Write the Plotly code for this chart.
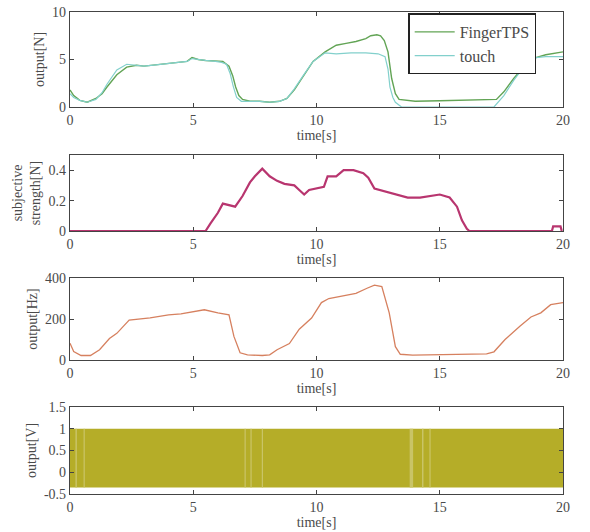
import plotly.graph_objects as go

# ---------------- data ----------------
t_finger = [0, 0.15, 0.4, 0.7, 1.05, 1.3, 1.5, 1.9, 2.3, 2.7, 3.0, 3.4, 3.8, 4.1, 4.5, 4.75, 4.95, 5.2, 5.5, 5.9, 6.2, 6.45, 6.6, 6.72, 6.85, 7.0, 7.3, 7.7, 8.1, 8.5, 8.8, 9.1, 9.46, 9.86, 10.35, 10.8, 11.2, 11.6, 12.0, 12.2, 12.45, 12.6, 12.75, 12.9, 13.05, 13.2, 13.35, 13.6, 14.0, 15.0, 16.0, 16.8, 17.3, 17.6, 18.0, 18.4, 18.9, 19.3, 19.7, 20.0]
v_finger = [1.8, 1.2, 0.7, 0.5, 0.9, 1.4, 2.1, 3.4, 4.2, 4.4, 4.3, 4.4, 4.5, 4.6, 4.7, 4.8, 5.2, 5.0, 4.9, 4.8, 4.8, 4.3, 3.3, 2.1, 1.2, 0.8, 0.6, 0.6, 0.5, 0.6, 0.9, 1.8, 3.2, 4.8, 5.8, 6.5, 6.7, 6.9, 7.2, 7.5, 7.6, 7.5, 7.0, 5.8, 3.0, 1.4, 0.8, 0.7, 0.6, 0.65, 0.7, 0.7, 0.8, 1.6, 3.0, 4.2, 5.2, 5.5, 5.7, 5.8]

t_touch = [0, 0.15, 0.4, 0.7, 1.05, 1.3, 1.5, 1.9, 2.3, 2.7, 3.0, 3.4, 3.8, 4.1, 4.5, 4.75, 4.95, 5.2, 5.5, 5.9, 6.15, 6.35, 6.5, 6.62, 6.76, 6.95, 7.3, 7.7, 8.1, 8.5, 8.8, 9.1, 9.46, 9.86, 10.35, 10.8, 11.4, 12.0, 12.5, 12.78, 12.9, 12.98, 13.1, 13.2, 13.45, 14.0, 15.0, 16.0, 17.2, 17.6, 18.0, 18.4, 18.9, 19.3, 19.7, 20.0]
v_touch = [1.4, 1.0, 0.7, 0.5, 0.8, 1.5, 2.4, 3.9, 4.5, 4.4, 4.3, 4.4, 4.5, 4.6, 4.7, 4.8, 5.1, 5.0, 4.9, 4.8, 4.7, 4.5, 3.5, 2.2, 1.0, 0.6, 0.6, 0.6, 0.5, 0.6, 0.9, 1.9, 3.3, 4.8, 5.7, 5.6, 5.7, 5.7, 5.6, 5.3, 4.0, 2.1, 1.0, 0.5, 0.0, 0.0, 0.0, 0.0, 0.0, 1.2, 2.8, 4.2, 5.2, 5.3, 5.3, 5.3]

t_strength = [0, 5.5, 5.7, 6.0, 6.2, 6.4, 6.7, 7.0, 7.3, 7.5, 7.8, 8.1, 8.4, 8.7, 9.1, 9.3, 9.5, 9.7, 10.0, 10.3, 10.45, 10.8, 11.1, 11.5, 11.9, 12.1, 12.35, 12.8, 13.3, 13.7, 14.2, 14.6, 15.0, 15.4, 15.7, 15.9, 16.1, 16.2, 19.55, 19.6, 19.9, 19.95]
v_strength = [0, 0, 0.05, 0.12, 0.18, 0.17, 0.16, 0.23, 0.32, 0.36, 0.41, 0.36, 0.33, 0.31, 0.30, 0.27, 0.24, 0.27, 0.28, 0.29, 0.36, 0.36, 0.40, 0.40, 0.38, 0.35, 0.28, 0.26, 0.24, 0.22, 0.22, 0.23, 0.24, 0.22, 0.16, 0.07, 0.015, 0, 0, 0.03, 0.03, 0]

t_hz = [0, 0.15, 0.45, 0.83, 1.2, 1.6, 1.9, 2.2, 2.4, 3.25, 4.0, 4.5, 5.0, 5.45, 6.0, 6.45, 6.65, 6.9, 7.2, 7.8, 8.1, 8.4, 8.9, 9.3, 9.8, 10.2, 10.5, 11.0, 11.6, 12.05, 12.35, 12.65, 12.95, 13.2, 13.4, 13.9, 15.4, 16.9, 17.2, 17.65, 18.25, 18.7, 19.1, 19.5, 20.0]
v_hz = [82, 41, 22, 22, 50, 105, 130, 170, 195, 205, 220, 225, 237, 245, 230, 220, 115, 35, 25, 22, 25, 50, 80, 150, 205, 280, 300, 310, 325, 350, 365, 358, 230, 65, 28, 24, 26, 30, 40, 100, 165, 210, 230, 270, 280]

# panel 4: voltage pulse train envelope and lighter (sparser) intervals
pulse_t = [0, 20]
pulse_high = 1.0
pulse_low = -0.35
light_start = [0.22, 0.55, 7.08, 7.32, 7.78, 13.78, 14.28, 14.58]
light_end = [0.28, 0.6, 7.13, 7.37, 7.83, 13.92, 14.34, 14.63]

x_ticks = [0, 5, 10, 15, 20]

# ---------------- figure ----------------
SERIF = "Liberation Serif, Times New Roman, serif"
TXT = "#4a4a4a"
AX = "#444444"

fig = go.Figure()

fig.add_trace(go.Scatter(x=t_finger, y=v_finger, mode="lines", name="FingerTPS",
                         line=dict(color="#62a455", width=1.4), xaxis="x", yaxis="y"))
fig.add_trace(go.Scatter(x=t_touch, y=v_touch, mode="lines", name="touch",
                         line=dict(color="#82d0cc", width=1.2), xaxis="x", yaxis="y"))

fig.add_trace(go.Scatter(x=t_strength, y=v_strength, mode="lines", showlegend=False,
                         line=dict(color="#b8356f", width=2.2), xaxis="x2", yaxis="y2"))

fig.add_trace(go.Scatter(x=t_hz, y=v_hz, mode="lines", showlegend=False,
                         line=dict(color="#d6805f", width=1.3), xaxis="x3", yaxis="y3"))

# panel 4 band
fig.add_trace(go.Scatter(x=pulse_t, y=[pulse_low] * len(pulse_t), mode="lines", showlegend=False,
                         line=dict(color="#b5ad28", width=0), xaxis="x4", yaxis="y4"))
fig.add_trace(go.Scatter(x=pulse_t, y=[pulse_high] * len(pulse_t), mode="lines", showlegend=False,
                         fill="tonexty", fillcolor="#b5ad28",
                         line=dict(color="#b5ad28", width=0), xaxis="x4", yaxis="y4"))
sx, sy = [], []
for a, b in zip(light_start, light_end):
    sx += [a, b, b, a, a, None]
    sy += [pulse_low, pulse_low, pulse_high, pulse_high, pulse_low, None]
fig.add_trace(go.Scatter(x=sx, y=sy, mode="lines", showlegend=False, fill="toself",
                         fillcolor="#c9c466", line=dict(width=0), xaxis="x4", yaxis="y4"))

H = 482.0
def dom(top_px, bot_px):
    return [(494 - bot_px) / H, (494 - top_px) / H]

common_x = dict(range=[0, 20], tickvals=x_ticks, ticktext=[str(v) for v in x_ticks],
                showline=True, mirror="ticks", linecolor=AX, linewidth=1.2,
                ticks="inside", ticklen=4, tickcolor=AX, showgrid=False, zeroline=False,
                automargin=False,
                tickfont=dict(family=SERIF, size=14, color=TXT),
                title=dict(text="time[s]", font=dict(family=SERIF, size=14, color=TXT), standoff=0))
common_y = dict(showline=True, mirror="ticks", linecolor=AX, linewidth=1.2,
                ticks="inside", ticklen=4, tickcolor=AX, showgrid=False, zeroline=False,
                automargin=False,
                tickfont=dict(family=SERIF, size=14, color=TXT))

def ytitle(t):
    return dict(text=t, font=dict(family=SERIF, size=14, color=TXT), standoff=4)

fig.update_layout(
    width=590, height=532,
    margin=dict(l=70, r=27, t=12, b=38),
    paper_bgcolor="white", plot_bgcolor="white",
    xaxis=dict(common_x, anchor="y"),
    xaxis2=dict(common_x, anchor="y2"),
    xaxis3=dict(common_x, anchor="y3"),
    xaxis4=dict(common_x, anchor="y4"),
    yaxis=dict(common_y, domain=dom(12, 107), range=[0, 10], tickvals=[0, 5, 10],
               anchor="x", title=ytitle("output[N]")),
    yaxis2=dict(common_y, domain=dom(155, 231), range=[0, 0.5], tickvals=[0, 0.2, 0.4],
                ticktext=["0", "0.2", "0.4"], anchor="x2",
                title=ytitle("subjective<br>strength[N]")),
    yaxis3=dict(common_y, domain=dom(278, 360), range=[0, 400], tickvals=[0, 200, 400],
                anchor="x3", title=ytitle("output[Hz]")),
    yaxis4=dict(common_y, domain=dom(407, 494), range=[-0.5, 1.5],
                tickvals=[-0.5, 0, 0.5, 1, 1.5], ticktext=["-0.5", "0", "0.5", "1", "1.5"],
                anchor="x4", title=ytitle("output[V]")),
    legend=dict(x=0.686, y=0.997, xanchor="left", yanchor="top",
                bgcolor="white", bordercolor="#222", borderwidth=1.5,
                font=dict(family=SERIF, size=16, color=TXT),
                itemwidth=40, tracegroupgap=0, traceorder="normal"),
    showlegend=True,
)

fig.write_html("out.html")
